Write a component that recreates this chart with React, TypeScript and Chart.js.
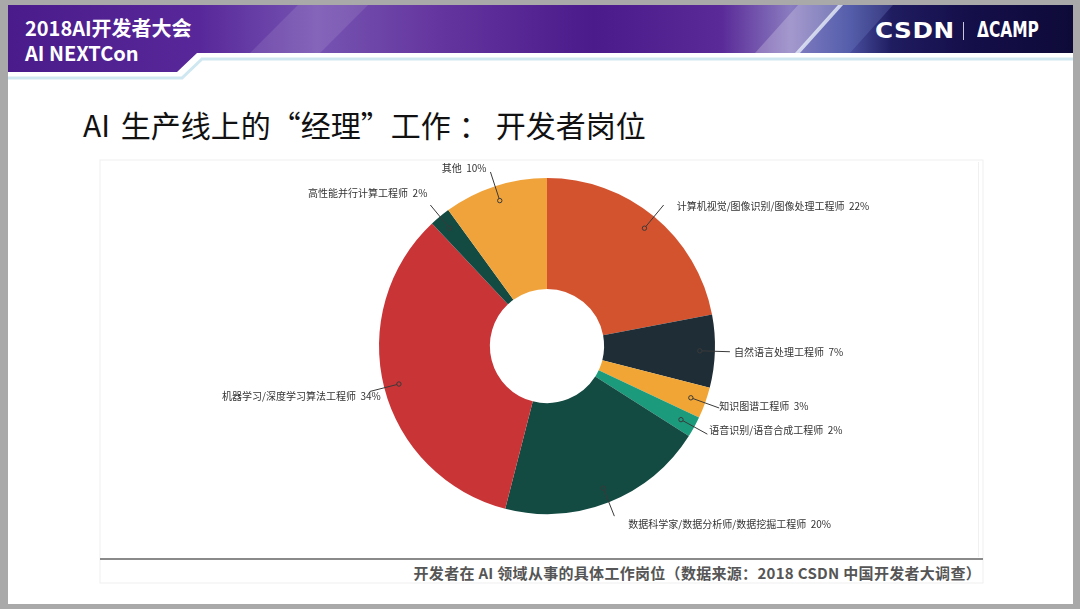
import React, { useEffect, useRef } from "react";
import { Chart, registerables } from "chart.js";
Chart.register(...registerables);

const categories = [
  "计算机视觉/图像识别/图像处理工程师",
  "自然语言处理工程师",
  "知识图谱工程师",
  "语音识别/语音合成工程师",
  "数据科学家/数据分析师/数据挖掘工程师",
  "机器学习/深度学习算法工程师",
  "高性能并行计算工程师",
  "其他",
];
const shares = [22, 7, 3, 2, 20, 34, 2, 10];
const sliceColors = ["#D4532F", "#1F2D36", "#F0A535", "#1C9A7C", "#134A42", "#C93437", "#134A42", "#F0A33A"];

const titleLead = "AI 生产线上的“经理”工作";
const titleColon = "：";
const titleTail = "开发者岗位";
const captionText = "开发者在 AI 领域从事的具体工作岗位（数据来源：2018 CSDN 中国开发者大调查）";

const CJK = '"Noto Sans CJK SC", "Noto Sans", sans-serif';

// label nudges (layout only)
const labelNudges: [number, number][] = [
  [9, 1], [0, 0], [-4, -2], [-2, -4], [10, 8], [15, 5], [1, -12], [0, -4],
];

const leaderPlugin = {
  id: "leaders",
  afterDatasetsDraw(chart: any) {
    const ctx = chart.ctx;
    const meta = chart.getDatasetMeta(0);
    ctx.save();
    meta.data.forEach((arc: any, i: number) => {
      const p = arc.getProps(["x", "y", "startAngle", "endAngle", "outerRadius"], true);
      const mid = (p.startAngle + p.endAngle) / 2;
      const R = p.outerRadius;
      const c = Math.cos(mid), s = Math.sin(mid);
      const dx = p.x + c * R * 0.91, dy = p.y + s * R * 0.91;
      const ex = p.x + c * (R + 15), ey = p.y + s * (R + 15);
      ctx.strokeStyle = "#3a3a3a";
      ctx.lineWidth = 1;
      ctx.beginPath();
      ctx.moveTo(dx, dy);
      ctx.lineTo(ex, ey);
      ctx.stroke();
      ctx.beginPath();
      ctx.arc(dx, dy, 2.2, 0, Math.PI * 2);
      ctx.fillStyle = sliceColors[i];
      ctx.fill();
      ctx.stroke();
      const [nx, ny] = labelNudges[i];
      const right = c >= 0;
      ctx.font = `10px ${CJK}`;
      ctx.fillStyle = "#333";
      ctx.textBaseline = "middle";
      ctx.textAlign = right ? "left" : "right";
      const tx = (right ? ex + 4 : ex - 4) + nx;
      ctx.fillText(`${categories[i]}  ${shares[i]}%`, tx, ey + ny);
    });
    ctx.restore();
  },
};

export default function App() {
  const ref = useRef<HTMLCanvasElement>(null);
  useEffect(() => {
    if (!ref.current) return;
    const chart = new Chart(ref.current, {
      type: "doughnut",
      data: {
        labels: categories,
        datasets: [
          {
            data: shares,
            backgroundColor: sliceColors,
            borderWidth: 0,
            hoverOffset: 0,
            offset: 0,
          },
        ],
      },
      options: {
        animation: false,
        responsive: false,
        cutout: "34%",
        layout: { padding: { left: 379, right: 365, top: 178, bottom: 95 } },
        plugins: { legend: { display: false }, tooltip: { enabled: false } },
        events: [],
      },
      plugins: [leaderPlugin],
    });
    return () => chart.destroy();
  }, []);

  return (
    <div style={{ position: "fixed", left: 0, top: 0, width: 1080, height: 609, background: "#a9a9a9", overflow: "hidden" }}>
      <div style={{ position: "absolute", left: 8, top: 5, width: 1065, height: 599, background: "#fff" }} />
      <svg width={1080} height={609} style={{ position: "absolute", left: 0, top: 0 }}>
        <defs>
          <linearGradient id="hg" gradientUnits="userSpaceOnUse" x1={8} y1={0} x2={1073} y2={0}>
            <stop offset={0} stopColor="#4a1b8a" />
            <stop offset={0.18} stopColor="#58289a" />
            <stop offset={0.29} stopColor="#7654b2" />
            <stop offset={0.4} stopColor="#65369f" />
            <stop offset={0.55} stopColor="#4b1a8b" />
            <stop offset={0.67} stopColor="#5a2a98" />
            <stop offset={0.735} stopColor="#8a7cc0" />
            <stop offset={0.79} stopColor="#4a50a0" />
            <stop offset={0.83} stopColor="#1f1c60" />
            <stop offset={0.9} stopColor="#150f4a" />
            <stop offset={1} stopColor="#0e0a38" />
          </linearGradient>
          <clipPath id="hc">
            <polygon points="8,5 1073,5 1073,53 197,53 177,72 8,72" />
          </clipPath>
        </defs>
        <polyline points="8,78 182,78 202,59 1073,59" fill="none" stroke="#cfe7f0" strokeWidth={3} />
        <g clipPath="url(#hc)">
          <rect x={8} y={5} width={1065} height={67} fill="url(#hg)" />
          <polygon points="250,53 320,53 368,5 298,5" fill="#ffffff" opacity={0.1} />
          <polygon points="755,53 797,53 840,5 798,5" fill="#ffffff" opacity={0.22} />
          <polygon points="799,53 850,53 893,5 842,5" fill="#7080c8" opacity={0.3} />
          <polygon points="795,53 800,53 843,5 838,5" fill="#e2e8f6" opacity={0.85} />
        </g>
        <rect x={100} y={160} width={883} height={423} fill="none" stroke="#efefef" strokeWidth={1} />
        <line x1={978.5} y1={162} x2={978.5} y2={557} stroke="#f0f0f0" strokeWidth={1} />
        <line x1={100} y1={559} x2={983} y2={559} stroke="#8a8a8a" strokeWidth={2} />
      </svg>
      <div style={{ position: "absolute", left: 25, top: 15, color: "#fff", fontFamily: CJK, fontWeight: 700, fontSize: 20, lineHeight: "26px" }}>
        2018AI开发者大会
      </div>
      <div style={{ position: "absolute", left: 25, top: 40, color: "#fff", fontFamily: CJK, fontWeight: 700, fontSize: 20, lineHeight: "26px" }}>
        AI NEXTCon
      </div>
      <div style={{ position: "absolute", left: 875, top: 17, color: "#fff", fontFamily: '"DejaVu Sans", sans-serif', fontWeight: 700, fontSize: 22, lineHeight: "28px", letterSpacing: 0.5, transform: "scaleX(1.12)", transformOrigin: "left" }}>
        CSDN
      </div>
      <div style={{ position: "absolute", left: 963, top: 22, width: 1, height: 18, background: "#c8c8d8" }} />
      <div style={{ position: "absolute", left: 977, top: 16, color: "#fff", fontFamily: '"DejaVu Sans Condensed", "Liberation Sans Narrow", sans-serif', fontWeight: 700, fontSize: 22, lineHeight: "28px", transform: "scaleX(0.78)", transformOrigin: "left" }}>
        ΔCAMP
      </div>
      <div style={{ position: "absolute", left: 83, top: 104, color: "#111", fontFamily: CJK, fontSize: 30, lineHeight: "40px", whiteSpace: "nowrap", wordSpacing: 4 }}>
        {titleLead}
        <span style={{ margin: "0 7px 0 8px" }}>{titleColon}</span>
        {titleTail}
      </div>
      <div style={{ position: "absolute", right: 1080 - 981, top: 562, color: "#555", fontFamily: CJK, fontWeight: 700, fontSize: 15, lineHeight: "22px", whiteSpace: "nowrap", letterSpacing: 0.3 }}>
        {captionText}
      </div>
      <canvas ref={ref} width={1080} height={609} style={{ position: "absolute", left: 0, top: 0 }} />
    </div>
  );
}
